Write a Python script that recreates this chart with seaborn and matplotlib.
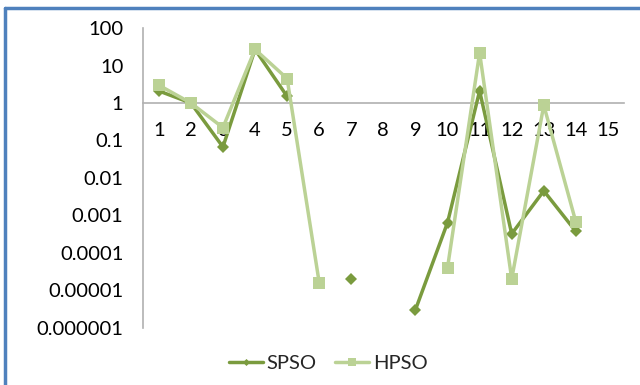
import numpy as np
import pandas as pd
import seaborn as sns
import matplotlib.pyplot as plt
from matplotlib.lines import Line2D

categories = list(range(1, 16))
spso = [2.1, 1.0, 0.067, 27, 1.5, np.nan, 2e-5, np.nan, 3e-6, 6.4e-4, 2.1, 3.2e-4, 4.5e-3, 3.7e-4, np.nan]
hpso = [3.0, 1.0, 0.22, 27, 4.5, 1.6e-5, np.nan, np.nan, np.nan, 4e-5, 22, 2e-5, 0.87, 6.6e-4, np.nan]
ytick_vals = [1e-6, 1e-5, 1e-4, 1e-3, 1e-2, 1e-1, 1, 10, 100]
ytick_labels = ["0.000001", "0.00001", "0.0001", "0.001", "0.01", "0.1", "1", "10", "100"]

df = pd.DataFrame({
    "x": categories * 2,
    "value": spso + hpso,
    "series": ["SPSO"] * 15 + ["HPSO"] * 15,
})

sns.set_style("white")
plt.rcParams["font.family"] = ["Lato", "DejaVu Sans"]

colors = {"SPSO": "#7A9B3E", "HPSO": "#BBD295"}
markers = {"SPSO": "D", "HPSO": "s"}
sizes = {"SPSO": 6, "HPSO": 8.5}

fig = plt.figure(figsize=(6.4, 3.85), dpi=100)
ax = fig.add_axes([0.223, 0.149, 0.752, 0.778])

# draw each contiguous run so that missing values leave gaps
for name in ["SPSO", "HPSO"]:
    sub = df[df["series"] == name].reset_index(drop=True)
    run_id = sub["value"].isna().cumsum()
    for _, seg in sub.dropna().groupby(run_id[sub["value"].notna()]):
        sns.lineplot(data=seg, x="x", y="value", ax=ax, color=colors[name],
                     marker=markers[name], markersize=sizes[name], markeredgewidth=0,
                     linewidth=2.5, legend=False, estimator=None)

ax.set_yscale("log")
ax.set_ylim(1e-6, 100)
ax.set_xlim(0.5, 15.5)
ax.set_yticks(ytick_vals)
ax.set_yticklabels(ytick_labels)
ax.yaxis.set_minor_locator(plt.NullLocator())
ax.set_xticks(categories)
ax.set_xticklabels([str(c) for c in categories])
ax.set_xlabel("")
ax.set_ylabel("")

for s in ["top", "right"]:
    ax.spines[s].set_visible(False)
ax.spines["bottom"].set_position(("data", 1))
ax.spines["bottom"].set_color("#B0B0B0")
ax.spines["left"].set_color("#B0B0B0")
ax.spines["bottom"].set_linewidth(1.2)
ax.spines["left"].set_linewidth(1.2)
ax.spines["bottom"].set_zorder(0)
ax.tick_params(axis="x", length=0, pad=14, labelsize=14.5, colors="black")
ax.tick_params(axis="y", length=0, pad=14, labelsize=14.5, colors="black")

handles = [Line2D([], [], color=colors[n], marker=markers[n], markersize=sizes[n] * 0.6,
                  markeredgewidth=0, linewidth=2.5) for n in ["SPSO", "HPSO"]]
fig.legend(handles, ["SPSO", "HPSO"], loc="center", bbox_to_anchor=(0.513, 0.057),
           ncol=2, frameon=False, fontsize=14.5, handlelength=1.7, handletextpad=0.2,
           columnspacing=0.9)

# outer frame (only top and left visible in reference)
fig.add_artist(Line2D([0.008, 1.0], [1 - 8 / 385, 1 - 8 / 385], transform=fig.transFigure,
                      color="#4F81BD", linewidth=2.5))
fig.add_artist(Line2D([0.008, 0.008], [0, 1 - 8 / 385], transform=fig.transFigure,
                      color="#4F81BD", linewidth=2.5))

fig.savefig("out.png", dpi=100)
